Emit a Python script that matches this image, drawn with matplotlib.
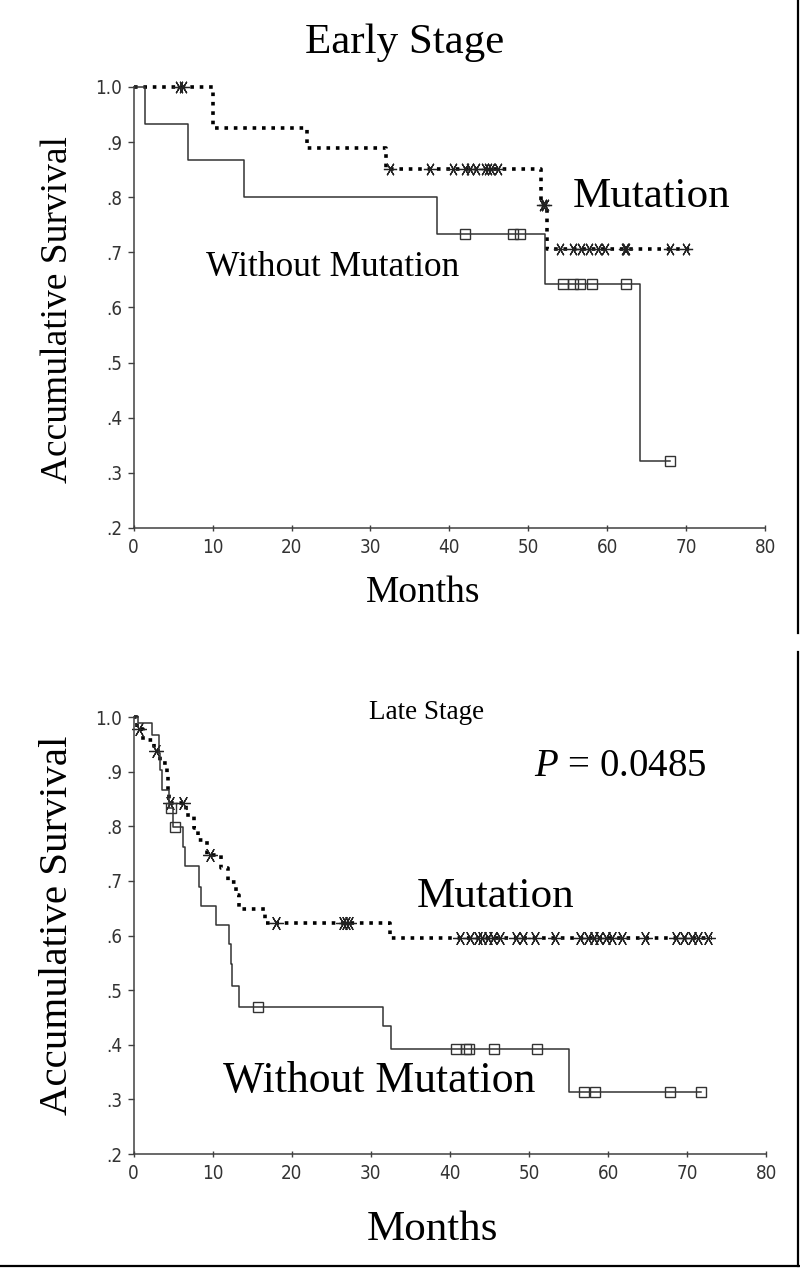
import numpy as np
import matplotlib
matplotlib.use('Agg')
import matplotlib.pyplot as plt
from matplotlib.lines import Line2D

plt.rcParams['mathtext.fontset'] = 'custom'
plt.rcParams['mathtext.rm'] = 'Liberation Serif'
plt.rcParams['mathtext.it'] = 'Liberation Serif:italic'

SERIF = 'Liberation Serif'
TICKFONT = ['DejaVu Sans']

# ---- Early stage ----
early_mut_t = [0, 10.0, 22.0, 32.0, 51.6, 52.4, 71.0]
early_mut_s = [1.0, 0.926, 0.889, 0.852, 0.786, 0.707, 0.707]
early_mut_cens = [5.8, 6.3, 32.5, 37.6, 40.5, 42.0, 42.6, 43.4, 44.5, 44.9, 45.3,
                  46.1, 51.9, 52.1, 54.0, 55.7, 56.7, 57.7, 58.8, 59.7, 62.2, 62.4,
                  67.9, 70.0]

early_wo_t = [0, 1.5, 6.9, 14.0, 38.4, 52.1, 64.1, 67.9]
early_wo_s = [1.0, 0.933, 0.867, 0.800, 0.733, 0.642, 0.321, 0.321]
early_wo_cens = [42.0, 48.0, 49.0, 54.4, 55.6, 56.5, 58.1, 62.4, 67.9]

# ---- Late stage ----
late_mut_t = [0, 0.4, 1.2, 2.6, 3.3, 4.2, 4.4, 4.5, 6.6, 7.6, 8.1, 9.3, 11.1,
              12.0, 13.0, 13.3, 16.6, 32.4, 73.1]
late_mut_s = [1.0, 0.979, 0.958, 0.937, 0.916, 0.895, 0.866, 0.843, 0.820, 0.797,
              0.774, 0.747, 0.723, 0.698, 0.674, 0.648, 0.623, 0.595, 0.595]
late_mut_cens = [0.7, 2.9, 4.6, 6.2, 9.7, 18.0, 26.5, 26.9, 27.2, 41.3, 42.5, 43.6,
                 44.0, 44.8, 45.5, 46.3, 48.4, 49.3, 50.7, 53.3, 56.4, 57.4, 58.2,
                 58.9, 59.7, 60.5, 61.7, 64.6, 68.6, 69.6, 70.6, 71.4, 72.6]

late_wo_t = [0, 0.6, 2.3, 3.2, 3.4, 3.6, 4.5, 5.0, 6.3, 6.5, 8.3, 8.5, 10.4, 12.1,
             12.3, 12.4, 13.3, 31.6, 32.5, 55.0, 71.7]
late_wo_s = [1.0, 0.99, 0.967, 0.935, 0.903, 0.866, 0.833, 0.798, 0.762, 0.727,
             0.689, 0.654, 0.619, 0.584, 0.548, 0.508, 0.470, 0.434, 0.393, 0.314,
             0.314]
late_wo_cens = [4.7, 5.3, 15.7, 40.8, 42.0, 42.4, 45.6, 51.0, 57.0, 58.3, 67.8, 71.7]

month_ticks = [0, 10, 20, 30, 40, 50, 60, 70, 80]
surv_ticks = [0.2, 0.3, 0.4, 0.5, 0.6, 0.7, 0.8, 0.9, 1.0]
surv_labels = ['.2', '.3', '.4', '.5', '.6', '.7', '.8', '.9', '1.0']

W, H = 800, 1268


def px(x, y):
    # pixel position -> figure fraction
    return x / W, 1 - y / H


def step_value(t, s, c):
    idx = np.searchsorted(t, c, side='right') - 1
    return np.asarray(s)[idx]


def draw_km(ax, t, s, cens, dotted, msize):
    if dotted:
        ax.step(t, s, where='post', color='black', lw=2.6,
                linestyle=(0, (1, 1.6)), dash_capstyle='butt', clip_on=False)
        ax.plot(cens, step_value(t, s, cens), linestyle='none', marker=(6, 2, 90),
                ms=msize, mec='#222222', mew=0.9, clip_on=False)
    else:
        ax.step(t, s, where='post', color='#333333', lw=1.1, clip_on=False)
        ax.plot(cens, step_value(t, s, cens), linestyle='none', marker='s',
                ms=6.5, mfc='none', mec='#333333', mew=1.0, clip_on=False)


def style_axes(ax):
    ax.set_xlim(0, 80)
    ax.set_ylim(0.2, 1.0)
    ax.set_xticks(month_ticks)
    ax.set_yticks(surv_ticks)
    ax.set_yticklabels(surv_labels)
    for side in ['top', 'right']:
        ax.spines[side].set_visible(False)
    for side in ['left', 'bottom']:
        ax.spines[side].set_color('#404040')
        ax.spines[side].set_linewidth(1.1)
    ax.tick_params(axis='both', colors='#404040', labelcolor='#333333',
                   labelsize=13.5, width=1.0)
    ax.tick_params(axis='x', length=4, pad=5, direction='inout')
    ax.tick_params(axis='y', length=4, pad=4)
    for lab in ax.get_xticklabels() + ax.get_yticklabels():
        lab.set_family(TICKFONT)
        lab.set_fontstretch('condensed')


fig = plt.figure(figsize=(8, 12.68), dpi=100)

ax1 = fig.add_axes([0.167, 0.5836, 0.7895, 0.3478])
draw_km(ax1, early_mut_t, early_mut_s, early_mut_cens, True, 9.5)
draw_km(ax1, early_wo_t, early_wo_s, early_wo_cens, False, 6.5)
style_axes(ax1)

ax2 = fig.add_axes([0.1669, 0.0899, 0.791, 0.3446])
draw_km(ax2, late_mut_t, late_mut_s, late_mut_cens, True, 10.5)
draw_km(ax2, late_wo_t, late_wo_s, late_wo_cens, False, 6.5)
style_axes(ax2)

# titles and labels
fig.text(*px(405, 43), 'Early Stage', family=SERIF, size=31, ha='center', va='center')
fig.text(*px(58, 310), 'Accumulative Survival', family=SERIF, size=27,
         rotation=90, ha='center', va='center')
fig.text(*px(423, 593), 'Months', family=SERIF, size=27, ha='center', va='center')
fig.text(*px(652, 197), 'Mutation', family=SERIF, size=31, ha='center', va='center')
fig.text(*px(333, 267), 'Without Mutation', family=SERIF, size=25.5, ha='center', va='center')

fig.text(*px(427, 713), 'Late Stage', family=SERIF, size=19.5, ha='center', va='center')
fig.text(*px(620, 767), r'$P$ = 0.0485', family=SERIF, size=28, ha='center', va='center')
fig.text(*px(58, 925), 'Accumulative Survival', family=SERIF, size=29.5,
         rotation=90, ha='center', va='center')
fig.text(*px(432, 1230), 'Months', family=SERIF, size=31, ha='center', va='center')
fig.text(*px(496, 897), 'Mutation', family=SERIF, size=31, ha='center', va='center')
fig.text(*px(379, 1081), 'Without Mutation', family=SERIF, size=31.5, ha='center', va='center')

# panel border pieces
fig.add_artist(Line2D([798 / W, 798 / W], [1, 1 - 633 / H], color='black', lw=1.6,
                      transform=fig.transFigure))
fig.add_artist(Line2D([798 / W, 798 / W], [1 - 652 / H, 1 - 1266 / H], color='black',
                      lw=1.6, transform=fig.transFigure))
fig.add_artist(Line2D([0, 1], [1 - 1266 / H, 1 - 1266 / H], color='black', lw=1.6,
                      transform=fig.transFigure))

fig.savefig('out.png', dpi=100, facecolor='white')
